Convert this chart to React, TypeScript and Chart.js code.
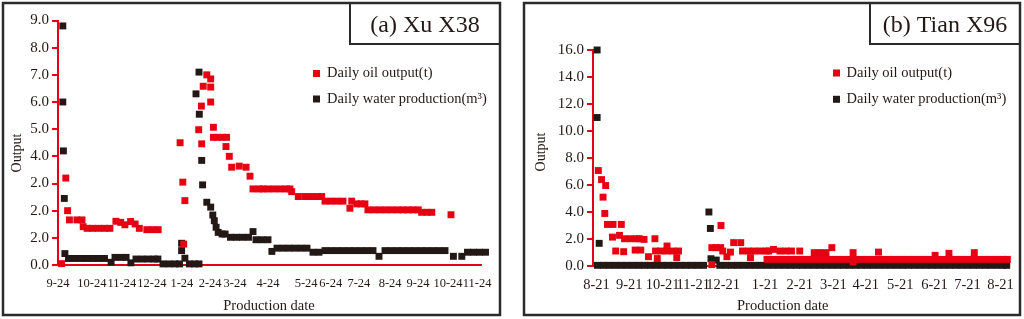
import { useEffect, useRef } from "react";
import { Chart, registerables } from "chart.js";

Chart.register(...registerables);

const RED = "#e60012";
const BLACK = "#231815";
const TEXT = "#231815";
const FRAME = "#2b2b2b";
const SERIF = "'Liberation Serif', 'Times New Roman', serif";

const OIL_LABEL = "Daily oil output(t)";
const WATER_LABEL = "Daily water production(m³)";
const Y_TITLE = "Output";
const X_TITLE = "Production date";

// ---------- Panel (a) Xu X38 ----------
const xuTitle = "(a) Xu X38";
const xuDateTicks = [0, 11.3, 21.3, 31.3, 41.3, 50.7, 59, 70, 82.7, 90.9, 100.3, 110.7, 120, 130, 139.7];
const xuDateLabels = ["9-24", "10-24", "11-24", "12-24", "1-24", "2-24", "3-24", "4-24", "5-24", "6-24", "7-24", "8-24", "9-24", "10-24", "11-24"];
const xuOutputTicks = [0, 1, 2, 3, 4, 5, 6, 7, 8, 9];
const xuOutputLabels = ["0.0", "2.0", "2.0", "2.0", "4.0", "5.0", "6.0", "7.0", "8.0", "9.0"];

const xuOilDay = [
  1.2, 2.6, 3.2, 3.8, 6.3, 8.0, 8.4, 9.7, 11.5, 13.5, 15.5, 17.3, 19.3, 20.9, 22.3, 24.2, 25.7, 27.1,
  29.6, 31.5, 33.4, 40.7, 41.6, 41.9, 42.3, 46.9, 47.8, 47.9, 48.4, 49.6, 50.9, 50.9, 50.9, 51.8,
  51.8, 53.0, 54.7, 56.2, 56.0, 57.1, 57.9, 60.4, 62.7, 64.0, 65.0, 67.0, 68.3, 70.0, 72.0, 74.0,
  76.0, 77.3, 77.9, 80.1, 82.3, 84.3, 86.3, 87.9, 89.0, 91.0, 93.0, 95.0, 97.9, 97.3, 99.6, 101.0,
  102.3, 103.3, 105.3, 107.3, 109.3, 111.3, 113.3, 115.0, 116.7, 118.3, 120.1, 121.2, 123.0, 124.6,
  131.0, 143.8,
];
const xuOil = [
  0.05, 3.2, 2.0, 1.66, 1.66, 1.66, 1.41, 1.35, 1.35, 1.35, 1.35, 1.35, 1.61, 1.57, 1.48, 1.6, 1.51, 1.35,
  1.3, 1.3, 1.3, 4.5, 3.05, 0.77, 2.37, 4.98, 5.85, 4.46, 6.58, 7.0, 6.85, 6.55, 6.0, 5.07,
  4.7, 4.7, 4.7, 4.7, 4.36, 4.0, 3.6, 3.64, 3.6, 3.27, 2.8, 2.8, 2.8, 2.8, 2.8, 2.8,
  2.8, 2.8, 2.7, 2.52, 2.52, 2.52, 2.52, 2.52, 2.35, 2.35, 2.35, 2.35, 2.35, 2.09, 2.25, 2.25,
  2.25, 2.03, 2.03, 2.03, 2.03, 2.03, 2.03, 2.03, 2.03, 2.03, 2.03, 1.94, 1.94, 1.94,
  1.85, 1.85,
];

const xuWaterDay = [
  1.6, 1.6, 1.8, 2.1, 2.3, 3.5, 5.5, 7.5, 9.5, 11.5, 13.5, 15.5, 17.7, 19.0, 21.0, 22.7, 24.3,
  26.0, 28.0, 30.0, 32.0, 33.3, 35.0, 37.0, 39.0, 40.5, 41.2, 41.2, 42.3, 43.8, 45.5, 47.0,
  46.0, 47.0, 47.1, 47.9, 48.2, 49.6, 50.9, 51.6, 52.1, 52.7, 53.4, 54.7, 55.7,
  57.5, 59.5, 61.5, 63.5, 65.0, 66.0, 68.0, 70.0, 71.3, 73.0, 75.0, 77.0, 79.0, 81.0, 83.0,
  85.0, 87.0, 89.0, 91.0, 93.0, 95.0, 97.0, 99.0, 101.0, 103.0, 105.0, 107.0, 109.0, 111.0,
  113.0, 115.0, 117.0, 119.0, 121.0, 123.0, 125.0, 127.0, 129.0, 131.8, 134.6, 136.5, 138.5,
  140.5, 142.5, 144.8,
];
const xuWater = [
  8.8, 6.0, 4.2, 2.45, 0.42, 0.24, 0.24, 0.24, 0.24, 0.24, 0.24, 0.24, 0.1, 0.28, 0.28, 0.28, 0.08,
  0.22, 0.22, 0.22, 0.22, 0.22, 0.04, 0.04, 0.04, 0.04, 0.8, 0.53, 0.25, 0.04, 0.04, 0.04,
  6.3, 7.1, 5.55, 3.85, 2.95, 2.31, 2.13, 1.84, 1.63, 1.39, 1.2, 1.14, 1.14,
  1.02, 1.02, 1.02, 1.02, 1.23, 0.93, 0.93, 0.93, 0.5, 0.62, 0.62, 0.62, 0.62, 0.62, 0.62,
  0.47, 0.47, 0.53, 0.53, 0.53, 0.53, 0.53, 0.53, 0.53, 0.53, 0.53, 0.32, 0.53, 0.53,
  0.53, 0.53, 0.53, 0.53, 0.53, 0.53, 0.53, 0.53, 0.53, 0.32, 0.32, 0.47, 0.47,
  0.47, 0.47, 0.47,
];

// ---------- Panel (b) Tian X96 ----------
const tianTitle = "(b) Tian X96";
const tianDateTicks = [1.2, 12.3, 23.6, 34, 44.1, 58.3, 70.1, 81.5, 92.5, 104.2, 115.8, 127, 138.2];
const tianDateLabels = ["8-21", "9-21", "10-21", "11-21", "12-21", "1-21", "2-21", "3-21", "4-21", "5-21", "6-21", "7-21", "8-21"];
const tianOutputTicks = [0, 2, 4, 6, 8, 10, 12, 14, 16];
const tianOutputLabels = ["0.0", "2.0", "4.0", "6.0", "8.0", "10.0", "12.0", "14.0", "16.0"];

const tianOilDay = [
  1.8, 2.9, 4.3, 3.4, 4.0, 4.9, 6.8, 9.6, 6.6, 9.0, 7.7, 10.4, 10.7, 12.7, 14.7, 15.7, 14.3, 16.2,
  17.3, 18.8, 21.0, 21.8, 21.2, 23.0, 25.0, 27.0, 29.0, 25.1, 28.4, 40.3, 40.3, 41.7, 43.3, 43.4,
  44.0, 45.4, 46.6, 47.7, 50.1, 50.7, 52.7, 54.7, 56.7, 58.7, 59.6, 53.4, 61.2, 63.4, 65.4, 67.3,
  70.1, 75.0, 77.0, 79.0, 81.0, 88.2, 88.2, 96.8, 116.0, 120.7, 129.3,
  59, 61, 63, 65, 67, 69, 71, 73, 75, 77, 79, 81, 83, 85, 87, 89, 91, 93, 95, 97, 99, 101, 103,
  105, 107, 109, 111, 113, 115, 117, 119, 121, 123, 125, 127, 129, 131, 133, 135, 137, 139, 140.5,
];
const tianOil = [
  7.07, 6.4, 5.96, 5.1, 3.89, 3.08, 3.08, 3.08, 2.14, 2.27, 1.11, 1.06, 2.02, 2.02, 2.02, 2.02, 1.18, 1.18,
  1.97, 0.69, 2.02, 0.55, 1.11, 1.11, 1.11, 1.11, 1.11, 1.48, 0.62, 0.1, 1.36, 1.36, 1.36, 3.0,
  1.11, 0.69, 1.03, 1.73, 1.73, 1.11, 1.11, 1.11, 1.11, 1.11, 1.11, 0.62, 1.23, 1.11, 1.11, 1.11,
  1.11, 0.99, 0.99, 0.99, 1.36, 0.99, 0.3, 1.03, 0.79, 0.94, 0.99,
  0.49, 0.49, 0.49, 0.49, 0.49, 0.49, 0.49, 0.49, 0.49, 0.49, 0.49, 0.49, 0.49, 0.49, 0.49, 0.49, 0.49, 0.49, 0.49, 0.49, 0.49, 0.49, 0.49,
  0.49, 0.49, 0.49, 0.49, 0.49, 0.49, 0.49, 0.49, 0.49, 0.49, 0.49, 0.49, 0.49, 0.49, 0.49, 0.49, 0.49, 0.49, 0.49,
];

const tianWaterDay = [
  1.4, 1.4, 2.1,
  1.5, 3.5, 5.5, 7.5, 9.5, 11.5, 13.5, 15.5, 17.5, 19.5, 21.5, 23.5, 25.5, 27.5, 29.5, 31.5, 33.5, 35.5, 37.5,
  39.3, 39.8, 40.0, 41.8,
  43, 45, 47, 49, 51, 53, 55, 57, 59, 61, 63, 65, 67, 69, 71, 73, 75, 77, 79, 81, 83, 85, 87, 89,
  91, 93, 95, 97, 99, 101, 103, 105, 107, 109, 111, 113, 115, 117, 119, 121, 123, 125, 127, 129,
  131, 133, 135, 137, 139, 140.3,
];
const tianWater = [
  16.0, 11.0, 1.68,
  0.05, 0.05, 0.05, 0.05, 0.05, 0.05, 0.05, 0.05, 0.05, 0.05, 0.05, 0.05, 0.05, 0.05, 0.05, 0.05, 0.05, 0.05, 0.05,
  4.0, 2.78, 0.54, 0.44,
  0.05, 0.05, 0.05, 0.05, 0.05, 0.05, 0.05, 0.05, 0.05, 0.05, 0.05, 0.05, 0.05, 0.05, 0.05, 0.05, 0.05, 0.05, 0.05, 0.05, 0.05, 0.05, 0.05, 0.05,
  0.05, 0.05, 0.05, 0.05, 0.05, 0.05, 0.05, 0.05, 0.05, 0.05, 0.05, 0.05, 0.05, 0.05, 0.05, 0.05, 0.05, 0.05, 0.05, 0.05,
  0.05, 0.05, 0.05, 0.05, 0.05, 0.05,
];

type Panel = {
  title: string;
  oilX: number[]; oilY: number[]; waterX: number[]; waterY: number[];
  dateTicks: number[]; dateLabels: string[];
  outTicks: number[]; outLabels: string[];
  yMax: number; xMax: number;
  area: { left: number; right: number; top: number; bottom: number };
  yWidth: number;
  xFont: number; xPad: number;
  frame: [number, number, number, number];
  titleBox: [number, number, number, number];
  legend: { sq: number; text: number; y1: number; y2: number };
  yTitle: [number, number];
  xTitle: [number, number];
};

const W = 1024;
const H = 319;

const xuPanel: Panel = {
  title: xuTitle,
  oilX: xuOilDay, oilY: xuOil, waterX: xuWaterDay, waterY: xuWater,
  dateTicks: xuDateTicks, dateLabels: xuDateLabels,
  outTicks: xuOutputTicks, outLabels: xuOutputLabels,
  yMax: 9, xMax: 141,
  area: { left: 58, right: 481, top: 20.5, bottom: 265 },
  yWidth: 58,
  xFont: 12.5, xPad: 11,
  frame: [3, 3, 500, 315],
  titleBox: [350, 3, 500, 44],
  legend: { sq: 313, text: 327, y1: 73.5, y2: 99 },
  yTitle: [17, 153],
  xTitle: [269, 306.5],
};

const tianPanel: Panel = {
  title: tianTitle,
  oilX: tianOilDay, oilY: tianOil, waterX: tianWaterDay, waterY: tianWater,
  dateTicks: tianDateTicks, dateLabels: tianDateLabels,
  outTicks: tianOutputTicks, outLabels: tianOutputLabels,
  yMax: 16, xMax: 141,
  area: { left: 593, right: 1016, top: 50, bottom: 266 },
  yWidth: 81,
  xFont: 14.5, xPad: 10,
  frame: [524, 3, 1020, 315],
  titleBox: [870, 3, 1020, 44],
  legend: { sq: 833, text: 846.5, y1: 73, y2: 99.3 },
  yTitle: [541, 152],
  xTitle: [782.7, 306.5],
};

function decorPlugin(p: Panel) {
  return {
    id: "panelDecor",
    afterDraw(chart: any) {
      const ctx: CanvasRenderingContext2D = chart.ctx;
      ctx.save();
      // outer frame
      ctx.strokeStyle = FRAME;
      ctx.lineWidth = 2.5;
      const [fx0, fy0, fx1, fy1] = p.frame;
      ctx.strokeRect(fx0, fy0, fx1 - fx0, fy1 - fy0);
      // title box
      const [tx0, ty0, tx1, ty1] = p.titleBox;
      ctx.lineWidth = 2;
      ctx.strokeRect(tx0, ty0, tx1 - tx0, ty1 - ty0);
      ctx.fillStyle = TEXT;
      ctx.font = `24px ${SERIF}`;
      ctx.textAlign = "center";
      ctx.textBaseline = "alphabetic";
      ctx.fillText(p.title, (tx0 + tx1) / 2, 32);
      // legend
      ctx.font = `14.5px ${SERIF}`;
      ctx.textAlign = "left";
      ctx.textBaseline = "middle";
      const rows: [string, string, number][] = [
        [RED, OIL_LABEL, p.legend.y1],
        [BLACK, WATER_LABEL, p.legend.y2],
      ];
      for (const [c, label, y] of rows) {
        ctx.fillStyle = c;
        ctx.fillRect(p.legend.sq, y - 3.5, 7, 7);
        ctx.fillStyle = TEXT;
        ctx.fillText(label, p.legend.text, y);
      }
      // axis titles
      ctx.font = `14.5px ${SERIF}`;
      ctx.textAlign = "center";
      ctx.textBaseline = "middle";
      ctx.fillText(X_TITLE, p.xTitle[0], p.xTitle[1]);
      ctx.save();
      ctx.translate(p.yTitle[0], p.yTitle[1]);
      ctx.rotate(-Math.PI / 2);
      ctx.font = `14px ${SERIF}`;
      ctx.fillText(Y_TITLE, 0, 0);
      ctx.restore();
      ctx.restore();
    },
  };
}

function makeConfig(p: Panel): any {
  const point = {
    pointStyle: "rect",
    pointRadius: 4.9,
    pointHoverRadius: 4.9,
    pointBorderWidth: 0,
    clip: false,
  };
  return {
    type: "scatter",
    data: {
      datasets: [
        {
          label: OIL_LABEL,
          data: p.oilX.map((x, i) => ({ x, y: p.oilY[i] })),
          backgroundColor: RED,
          borderColor: RED,
          ...point,
        },
        {
          label: WATER_LABEL,
          data: p.waterX.map((x, i) => ({ x, y: p.waterY[i] })),
          backgroundColor: BLACK,
          borderColor: BLACK,
          ...point,
        },
      ],
    },
    options: {
      responsive: false,
      animation: false,
      events: [],
      layout: {
        padding: { left: p.area.left - p.yWidth, right: W - p.area.right, top: p.area.top, bottom: 0 },
      },
      plugins: { legend: { display: false }, tooltip: { enabled: false }, title: { display: false } },
      scales: {
        x: {
          type: "linear",
          min: 0,
          max: p.xMax,
          afterFit: (s: any) => { s.height = H - p.area.bottom; },
          afterBuildTicks: (s: any) => { s.ticks = p.dateTicks.map((v) => ({ value: v })); },
          grid: { display: false, drawTicks: false },
          border: { display: true, color: RED, width: 2 },
          ticks: {
            autoSkip: false,
            maxRotation: 0,
            minRotation: 0,
            padding: p.xPad,
            color: TEXT,
            font: { family: SERIF, size: p.xFont },
            callback: (_v: any, i: number) => p.dateLabels[i],
          },
        },
        y: {
          type: "linear",
          min: 0,
          max: p.yMax,
          afterFit: (s: any) => { s.width = p.yWidth; },
          afterBuildTicks: (s: any) => { s.ticks = p.outTicks.map((v) => ({ value: v })); },
          grid: { display: true, drawOnChartArea: false, drawTicks: true, tickLength: 6, color: RED, lineWidth: 2 },
          border: { display: true, color: RED, width: 2 },
          ticks: {
            padding: 3,
            color: TEXT,
            font: { family: SERIF, size: 15 },
            callback: (_v: any, i: number) => p.outLabels[i],
          },
        },
      },
    },
    plugins: [decorPlugin(p)],
  };
}

export default function App() {
  const leftRef = useRef<HTMLCanvasElement>(null);
  const rightRef = useRef<HTMLCanvasElement>(null);

  useEffect(() => {
    const a = new Chart(leftRef.current as HTMLCanvasElement, makeConfig(xuPanel));
    const b = new Chart(rightRef.current as HTMLCanvasElement, makeConfig(tianPanel));
    return () => {
      a.destroy();
      b.destroy();
    };
  }, []);

  return (
    <div style={{ position: "fixed", left: 0, top: 0, width: W, height: H, background: "#fff" }}>
      <canvas ref={leftRef} width={W} height={H} style={{ position: "absolute", left: 0, top: 0 }} />
      <canvas ref={rightRef} width={W} height={H} style={{ position: "absolute", left: 0, top: 0 }} />
    </div>
  );
}
